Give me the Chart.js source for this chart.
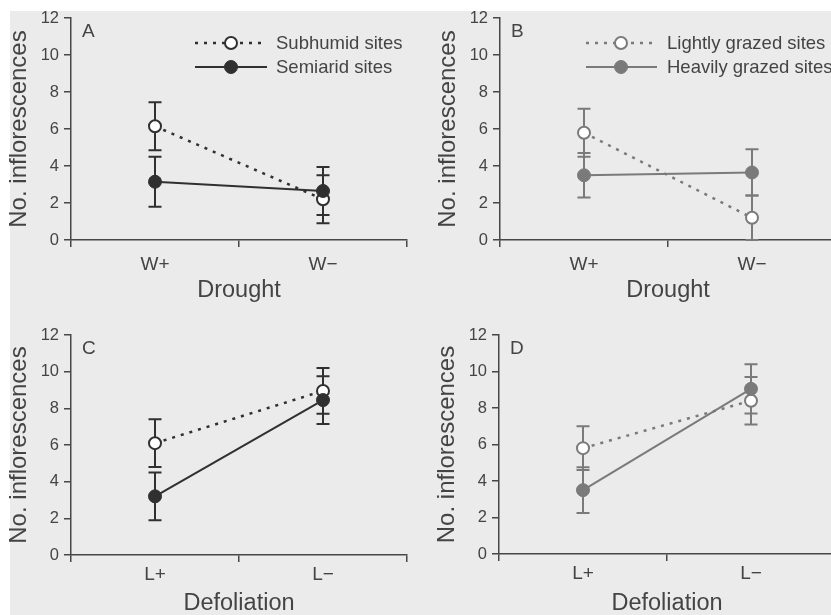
<!DOCTYPE html>
<html>
<head>
<meta charset="utf-8">
<script src="https://cdn.jsdelivr.net/npm/chart.js@4.4.1/dist/chart.umd.min.js"></script>
<style>
  html, body { margin: 0; padding: 0; width: 831px; height: 615px; overflow: hidden; background: #fff; }
  #paper { position: absolute; left: 10px; top: 11px; right: 0; bottom: 0; background: #ebebeb; }
  canvas { position: absolute; }
</style>
</head>
<body>
<div id="paper"></div>
<canvas id="cA" width="415" height="305" style="left:0px;top:0px"></canvas>
<canvas id="cB" width="415" height="305" style="left:429px;top:0px"></canvas>
<canvas id="cC" width="415" height="301" style="left:0px;top:317px"></canvas>
<canvas id="cD" width="415" height="301" style="left:428px;top:317px"></canvas>
<script>
// categories
const droughtLabels = ['W+', 'W\u2212'];
const defoliationLabels = ['L+', 'L\u2212'];
const yTicks = [0, 2, 4, 6, 8, 10, 12];

// A: drought, subhumid vs semiarid
const subhumidDrought = [6.15, 2.2];
const subhumidDroughtErr = [1.3, 1.3];
const semiaridDrought = [3.15, 2.65];
const semiaridDroughtErr = [1.35, 1.3];

// B: drought, lightly vs heavily grazed
const lightDrought = [5.8, 1.2];
const lightDroughtErr = [1.3, 1.2];
const heavyDrought = [3.5, 3.65];
const heavyDroughtErr = [1.2, 1.25];

// C: defoliation, subhumid vs semiarid
const subhumidDefol = [6.1, 8.95];
const subhumidDefolErr = [1.3, 1.25];
const semiaridDefol = [3.2, 8.45];
const semiaridDefolErr = [1.3, 1.3];

// D: defoliation, lightly vs heavily grazed
const lightDefol = [5.8, 8.4];
const lightDefolErr = [1.2, 1.3];
const heavyDefol = [3.5, 9.05];
const heavyDefolErr = [1.25, 1.35];

const fam = '"Liberation Sans", Arial, Helvetica, sans-serif';
const axisColor = '#474747';
const textColor = '#444444';
const darkInk = '#303030';
const greyInk = '#7a7a7a';

// error bars + legend + panel letter, all through the chart's scales
const extras = {
  id: 'extras',
  beforeDatasetsDraw(chart) {
    const ctx = chart.ctx;
    const x = chart.scales.x, y = chart.scales.y;
    chart.data.datasets.forEach(ds => {
      ctx.save();
      ctx.strokeStyle = ds.borderColor;
      ctx.lineWidth = 2;
      ds.data.forEach((v, i) => {
        const px = x.getPixelForValue(i);
        const top = y.getPixelForValue(v + ds.err[i]);
        const bot = y.getPixelForValue(v - ds.err[i]);
        ctx.beginPath();
        ctx.moveTo(px, top); ctx.lineTo(px, bot);
        ctx.moveTo(px - 6.5, top); ctx.lineTo(px + 6.5, top);
        ctx.moveTo(px - 6.5, bot); ctx.lineTo(px + 6.5, bot);
        ctx.stroke();
      });
      ctx.restore();
    });
  },
  afterDraw(chart, args, opts) {
    const ctx = chart.ctx;
    const a = chart.chartArea;
    ctx.save();
    ctx.fillStyle = textColor;
    ctx.font = '19px ' + fam;
    ctx.textBaseline = 'alphabetic';
    ctx.fillText(opts.letter, a.left + 11, a.top + 19);
    if (opts.legend) {
      const L = opts.legend;
      const order = [1, 0];
      ctx.font = '18.5px ' + fam;
      order.forEach((di, row) => {
        const ds = chart.data.datasets[di];
        const yy = a.top + 25 + row * 24;
        ctx.strokeStyle = ds.borderColor;
        ctx.lineWidth = ds.borderWidth;
        ctx.setLineDash(ds.borderDash || []);
        ctx.beginPath();
        ctx.moveTo(a.left + L.x0, yy); ctx.lineTo(a.left + L.x1, yy);
        ctx.stroke();
        ctx.setLineDash([]);
        ctx.beginPath();
        ctx.arc(a.left + L.mx, yy, ds.pointRadius, 0, Math.PI * 2);
        ctx.fillStyle = ds.pointBackgroundColor;
        ctx.fill();
        ctx.lineWidth = ds.pointBorderWidth;
        ctx.strokeStyle = ds.pointBorderColor;
        ctx.stroke();
        ctx.fillStyle = textColor;
        ctx.textBaseline = 'middle';
        ctx.fillText(ds.label, a.left + L.tx, yy + 1);
      });
    }
    ctx.restore();
  }
};

function solidSet(label, data, err, color) {
  return {
    label, data, err,
    borderColor: color, borderWidth: 2,
    pointRadius: 6.5, pointBackgroundColor: color, pointBorderColor: color, pointBorderWidth: 1,
    order: 1
  };
}
function dottedSet(label, data, err, color) {
  return {
    label, data, err,
    borderColor: color, borderWidth: 2.5, borderDash: [3, 6],
    pointRadius: 6, pointBackgroundColor: '#ffffff', pointBorderColor: color, pointBorderWidth: 2,
    order: 2
  };
}

function makePanel(id, cfg) {
  new Chart(document.getElementById(id), {
    type: 'line',
    data: {
      labels: cfg.labels,
      datasets: [
        solidSet(cfg.names[1], cfg.solid, cfg.solidErr, cfg.ink),
        dottedSet(cfg.names[0], cfg.dotted, cfg.dottedErr, cfg.ink)
      ]
    },
    options: {
      responsive: false,
      animation: false,
      layout: { padding: { top: 18, right: 7, left: 0, bottom: 0 } },
      plugins: {
        legend: { display: false },
        tooltip: { enabled: false },
        extras: { letter: cfg.letter, legend: cfg.legend }
      },
      scales: {
        x: {
          type: 'category',
          offset: true,
          grid: { offset: true, drawOnChartArea: false, drawTicks: true, tickLength: 7, color: axisColor, lineWidth: 1.5 },
          border: { display: true, color: axisColor, width: 1.5 },
          ticks: { color: textColor, font: { family: fam, size: 19 }, padding: cfg.tickPad, maxRotation: 0 },
          title: { display: true, text: cfg.title, color: textColor, font: { family: fam, size: 23.5 }, padding: { top: 0, bottom: 0 } },
          afterFit: s => { s.height = cfg.height - cfg.plotBottom; }
        },
        y: {
          min: 0, max: 12,
          afterBuildTicks: s => { s.ticks = yTicks.map(v => ({ value: v })); },
          grid: { drawOnChartArea: false, drawTicks: true, tickLength: 7, color: axisColor, lineWidth: 1.5 },
          border: { display: true, color: axisColor, width: 1.5 },
          ticks: { color: textColor, font: { family: fam, size: 16.5 }, padding: 5 },
          title: { display: true, text: 'No. inflorescences', color: textColor, font: { family: fam, size: 24 }, padding: { top: 5, bottom: 0 } },
          afterFit: s => { s.width = 71; }
        }
      }
    },
    plugins: [extras]
  });
}

const groupNamesA = ['Subhumid sites', 'Semiarid sites'];
const groupNamesB = ['Lightly grazed sites', 'Heavily grazed sites'];

makePanel('cA', {
  letter: 'A', labels: droughtLabels, title: 'Drought', ink: darkInk,
  dotted: subhumidDrought, dottedErr: subhumidDroughtErr,
  solid: semiaridDrought, solidErr: semiaridDroughtErr,
  names: groupNamesA, height: 305, plotBottom: 240, tickPad: 6,
  legend: { x0: 124, x1: 196, mx: 160, tx: 205 }
});
makePanel('cB', {
  letter: 'B', labels: droughtLabels, title: 'Drought', ink: greyInk,
  dotted: lightDrought, dottedErr: lightDroughtErr,
  solid: heavyDrought, solidErr: heavyDroughtErr,
  names: groupNamesB, height: 305, plotBottom: 240, tickPad: 6,
  legend: { x0: 86, x1: 157, mx: 121, tx: 167 }
});
makePanel('cC', {
  letter: 'C', labels: defoliationLabels, title: 'Defoliation', ink: darkInk,
  dotted: subhumidDefol, dottedErr: subhumidDefolErr,
  solid: semiaridDefol, solidErr: semiaridDefolErr,
  names: groupNamesA, height: 301, plotBottom: 238, tickPad: 1
});
makePanel('cD', {
  letter: 'D', labels: defoliationLabels, title: 'Defoliation', ink: greyInk,
  dotted: lightDefol, dottedErr: lightDefolErr,
  solid: heavyDefol, solidErr: heavyDefolErr,
  names: groupNamesB, height: 301, plotBottom: 237, tickPad: 1
});
</script>
</body>
</html>
